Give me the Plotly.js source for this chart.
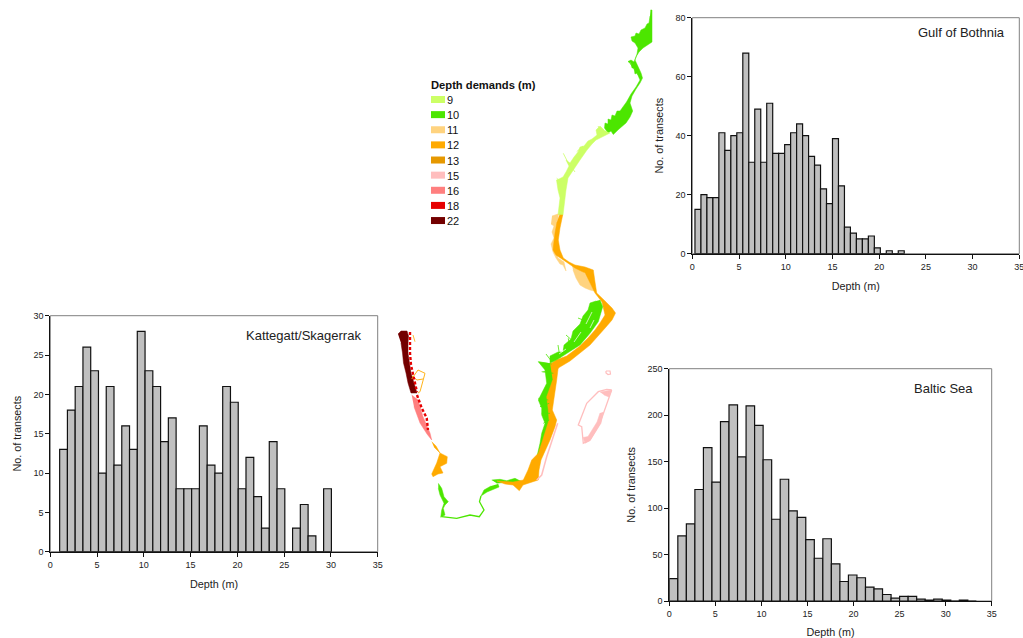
<!DOCTYPE html>
<html><head><meta charset="utf-8">
<script src="https://cdn.plot.ly/plotly-3.0.1.min.js"></script>
<style>html,body{margin:0;padding:0;background:#fff;overflow:hidden;width:1023px;height:638px}</style>
</head><body><div id="chart" style="width:1040px;height:638px"></div>
<script>
// Histogram values
const gulfValues=[15,20,19,19,41,35,40,41,68,31,49,31,51,34,34,37,41,44,40,33,30,22,17,39,23,9,7,5,5,6,2,0,1,0,1];
const gulfBinStart=0.285, gulfBinWidth=0.64;
const kattegatValues=[13,18,21,26,23,10,21,11,16,13,28,23,21,14,17,8,8,8,16,11,10,21,19,8,12,7,3,14,8,0,3,6,2,0,8];
const kattegatBinStart=1.0, kattegatBinWidth=0.83;
const balticValues=[24,70,83,120,165,128,193,211,155,210,189,152,88,131,97,90,66,46,67,40,21,28,25,15,13,7,3,5,5,2,1,2,1,0,1,0];
const balticBinStart=0, balticBinWidth=0.926;

// Legend
const legendLabels=['9','10','11','12','13','15','16','18','22'];
const legendColors=['#CCFF66','#4CE600','#FFD37F','#FFAA00','#E69800','#FFBEBE','#FF7F7F','#E60000','#730000'];
const colorOf=Object.fromEntries(legendLabels.map((l,i)=>[l,legendColors[i]]));

// Map regions: outlines, in map units
const north10=[[650.5,10],[652,10],[652,42],[647,45],[643,48],[639,52],[636.5,56],[635,60],[637,64],[639,68],[641,73],[642.5,78],[640,83],[636,89],[632,96],[630,103],[632.7,111],[630,117],[626,123],[619,129],[613.3,134.5],[611,131],[608,133],[604.5,128],[605,123],[608,124],[608,119],[611,120],[612,115],[615,116],[617,111],[620,111],[623,107],[626.5,102],[631,94],[636,87],[640,80],[637,73],[635,74],[634,68],[632,68],[631,63],[628,61.5],[631,60],[634,62],[637,54],[638,48],[635,43],[632,41],[631,37],[635,36],[636,33],[639,34],[641,30],[645,28],[647,24],[649,23],[650,16]];
const mid9=[[610,133],[604,136],[596,140],[592,144],[587,150],[580,160],[573,170],[568,178],[566,190],[565,200],[563,215],[558,215],[559,205],[560,198],[558,190],[556.5,180],[559,179],[563,177],[566,172],[569,166],[566,160],[570,163],[574,157],[576,155],[578,152],[580,147],[584,146],[588,141],[592,139],[597,135],[596,130],[600,126],[604,130]];
const coast12a=[[559.5,215],[562.7,215],[560,228],[558.3,240],[560,250],[563.3,258],[569,262],[575,265],[585,267],[593.3,270],[595,282],[596.7,293],[605,301],[612,308],[615.5,313],[612,320],[606,327],[597,337],[590,345],[580,353],[570,361],[558.3,368],[556,372],[553,380],[550,376],[549,365],[556,360],[566.7,356],[573,351],[580,346],[588,338],[595,330],[600,323],[605,315],[602,302],[595,293],[590,283],[585,273],[575,268],[563,260],[556,255],[553,250],[554,240],[555,233],[557,222]];
const coast11=[[552,216],[558,214],[559,222],[556,232],[555,246],[558,258],[564,262],[566,271],[563,265],[560,264],[556,258],[553,252],[551,244],[554,238],[552,232],[554,226],[551,224]];
const coast11b=[[572,265],[578,267],[585,274],[590,284],[594,291],[590,290],[585,288],[580,285],[576,278],[573,270]];
const coast10mid=[[600,300],[602.7,306.7],[598.3,321.7],[590,333.3],[580,345],[572,350],[565,355],[558,359],[550,363.3],[550,356],[558,352],[563,352],[564,345],[571,339],[573,331],[580,324],[583,316],[588,310],[590,303],[596,301]];
const coast10east=[[491.7,480],[500,479.3],[506.7,480.7],[515,478.3],[521.7,481.7],[518.3,483.3],[506.7,482],[496.7,483.3]];
const coast10wedge=[[498,484],[499,487],[487,492],[481,496],[484,490],[491,486]];
const coast10south=[[538.3,361.7],[545,370],[546.7,383.3],[541.7,393.3],[538.3,400],[541.7,408.3],[541.7,415],[545,423.3],[541.7,433.3],[540,443.3],[537.3,455],[540.7,455],[544,443.3],[547.3,433.3],[550,420],[549.3,403.3],[551.7,386.7],[555,370],[550,363.3]];
const coast12b=[[550,362.7],[558.3,366.7],[556.7,380],[554,396.7],[552.3,410],[556.7,420],[555,426.7],[550,440],[544.3,453.3],[541,460],[539,470],[538.3,480],[523,485],[519.3,490.7],[513,485],[505,484],[497,481],[513,482],[523.3,480],[528,470],[531.7,460],[538.3,453.3],[542.7,440],[546.7,426.7],[549,420],[548.3,410],[546.7,396.7],[552.7,380]];
const west12=[[431.7,441.7],[436,446],[440,453],[447.3,456.7],[446.7,463.3],[440,466.7],[443,473],[438,474],[433,476.7],[431.7,474],[436.7,463],[440,453],[434,447]];
const west16=[[411.7,395],[418,400],[423,416.7],[430,433],[431.7,440],[427,434],[420,423],[414,406.7]];
const west22=[[398,334],[401,331],[407,331],[408.5,336],[408,343],[408,353],[409.5,363],[411,373],[414,383],[417,393],[411,393],[408,383],[406,373],[403.5,363],[402.5,353],[401,343]];
const west10=[[438.3,483.3],[441.7,488.3],[444,496.7],[448.3,501.7],[445,505],[443.3,508.3],[445,515],[440.7,517.3],[441.7,510],[444,503.3],[440,495],[438.3,488.3]];
const isleTop=[[600,392],[611.7,390],[609,397],[604,395]];
const isleLow=[[603.3,412],[601,423.3],[590,440.7],[585,443.3],[583,437.5],[588,436.5],[597,422],[600,413]];
const balticIsle=[[611.7,390],[603.3,415],[600,423.3],[590,440],[583.3,443.3],[581.7,426.7],[578.3,425],[586.7,403.3],[598.3,391.7],[606.7,389.3],[611.7,390]];
const ringIsle=[[606,371],[610,371],[610.5,374],[608,374.5],[606,373],[606,371]];
const eastCoast15=[[557.7,423.3],[553.3,436.7],[546.7,456.7],[541.7,475],[536.7,480]];
const south10line=[[481,496],[479.5,501.7],[484,510],[479.3,516.7],[470,515],[456.7,518.3],[441.7,516.7]];
const north12lineA=[[413,335],[415,341.7]];
const west12line=[[411.7,379],[418,370],[425,373.3],[422.7,383],[420,391.7],[418,393]];
const west12line2=[[412,376],[417,380],[423,379]];
const west18a=[[410,332],[410,345],[410,353],[411,365],[414,378],[417,392]];
const west18b=[[417,395],[421.7,408],[426.7,418],[428,430]];
const feather10=[[568.3,338.3],[570,350],null,[565,345],[563.3,353.3],null,[583.3,318],[580,336.7],null,[593.3,303.3],[591.7,313.3],null,[538.3,361.7],[551.7,364],null,[543.3,371.7],[550,370],null,[541.7,371.7],[553.3,373.3],null,[538.3,398.3],[548.3,400],null,[540,406.7],[549.3,403.3],null,[541.7,413.3],[550,413.3],null,[543.3,423.3],[549.3,420],null,[631.7,37.3],[641.7,41.7],null,[628.3,61.7],[635,66.7],null,[630,63.3],[638.3,75],null,[574,342],[566,335],null,[588,322],[578,318],null,[546,354],[552,362],null,[558,345],[560,358]];
const feather9=[[563.3,153.3],[571.7,170],null,[576.7,151.7],[583,146],null,[556.7,178.3],[565,185],null,[568,162],[575,172],null,[598,126],[603,134]];
const latticeHoles=[[592,312],[586,324],null,[581,332],[574,342],null,[594,320],[590,328],null,[566,349],[559,354]];

const mapFills=[['15',isleTop],['15',isleLow],['10',north10],['9',mid9],['11',coast11],['11',coast11b],['12',coast12a],['10',coast10mid],['10',coast10south],['10',coast10east],['12',coast12b],['10',coast10wedge],['10',west10],['12',west12],['16',west16],['22',west22]];
const mapLines=[['15',balticIsle,1.3],['15',ringIsle,1.2],['15',eastCoast15,1.5],['10',south10line,1.3],['12',north12lineA,0.8],['12',west12line,0.9],['12',west12line2,0.9],['10',feather10,0.8],['9',feather9,0.8]];
const mapDots=[['18',west18a],['18',west18b]];
const xOf=c=>c.map(p=>p?p[0]:null), yOf=c=>c.map(p=>p?p[1]:null);

const barColor='#C0C0C0', barEdge='#111111';
const hist=(vals,start,w,xa,ya)=>({type:'bar',x:vals.map((_,i)=>start+w*(i+0.5)),y:vals,width:w,xaxis:xa,yaxis:ya,
  marker:{color:barColor,line:{color:barEdge,width:1.2}},showlegend:false,hoverinfo:'x+y'});

const data=[
  hist(gulfValues,gulfBinStart,gulfBinWidth,'x','y'),
  hist(kattegatValues,kattegatBinStart,kattegatBinWidth,'x2','y2'),
  hist(balticValues,balticBinStart,balticBinWidth,'x3','y3')
];
const common={type:'scatter',mode:'lines',xaxis:'x4',yaxis:'y4',showlegend:false,hoverinfo:'skip'};
mapFills.forEach(([d,c])=>data.push({...common,x:xOf(c),y:yOf(c),fill:'toself',fillcolor:colorOf[d],line:{color:colorOf[d],width:0.5}}));
mapLines.forEach(([d,c,w])=>data.push({...common,x:xOf(c),y:yOf(c),line:{color:colorOf[d],width:w}}));
data.push({...common,x:xOf(latticeHoles),y:yOf(latticeHoles),line:{color:'#ffffff',width:0.7}});
mapDots.forEach(([d,c])=>data.push({...common,x:xOf(c),y:yOf(c),line:{color:colorOf[d],width:2.4,dash:'3px,2px'}}));

const W=1040,H=638, textCol='#222222', family='"Liberation Sans", Arial, sans-serif';
const dx=(a,b)=>[a/W,b/W], dy=(t,b)=>[1-b/H,1-t/H];
const xAxis=(dom,anchor)=>({domain:dom,anchor,range:[0,35],dtick:5,tick0:0,showgrid:false,zeroline:false,showline:true,linecolor:'#111',linewidth:1,ticks:'outside',ticklen:4,tickcolor:'#111',tickfont:{size:9,color:textCol,family},title:{text:'Depth (m)',font:{size:10.8,color:textCol,family},standoff:11}});
const yAxis=(dom,anchor,max,step)=>({domain:dom,anchor,range:[0,max],dtick:step,tick0:0,showgrid:false,zeroline:false,showline:true,linecolor:'#111',linewidth:1,ticks:'outside',ticklen:4,tickcolor:'#111',tickfont:{size:9,color:textCol,family},title:{text:'No. of transects',font:{size:10.8,color:textCol,family},standoff:9}});
const frame=(x,y)=>({type:'rect',xref:x+' domain',yref:y+' domain',x0:0,x1:1,y0:0,y1:1,line:{color:'#808080',width:1},layer:'below'});
const label=(text,x,y,xa,ya)=>({text,x,y,xref:xa,yref:ya,showarrow:false,font:{size:13,color:textCol,family},xanchor:'center',yanchor:'middle'});

const legendX=431, legendSwatchW=14, legendSwatchH=7, legendTop=99.5, legendStep=15.13;
const shapes=[frame('x','y'),frame('x2','y2'),frame('x3','y3')];
const annotations=[
  label('Gulf of Bothnia',28.8,75.1,'x','y'),
  label('Kattegatt/Skagerrak',27.1,27.5,'x2','y2'),
  label('Baltic Sea',29.8,229,'x3','y3'),
  {text:'<b>Depth demands (m)</b>',x:legendX-2,y:85,xref:'x4',yref:'y4',showarrow:false,xanchor:'left',yanchor:'middle',font:{size:11.2,color:'#111',family}}
];
legendLabels.forEach((l,i)=>{
  const cy=legendTop+i*legendStep;
  shapes.push({type:'rect',xref:'x4',yref:'y4',x0:legendX,x1:legendX+legendSwatchW,y0:cy-legendSwatchH/2,y1:cy+legendSwatchH/2,fillcolor:legendColors[i],line:{width:0}});
  annotations.push({text:l,x:legendX+legendSwatchW-0.5,y:cy+0.5,xref:'x4',yref:'y4',showarrow:false,xanchor:'left',yanchor:'middle',font:{size:11,color:'#111',family}});
});

const layout={width:W,height:H,margin:{l:0,r:0,t:0,b:0},paper_bgcolor:'#fff',plot_bgcolor:'rgba(0,0,0,0)',barmode:'overlay',font:{family},
  xaxis:xAxis(dx(692.3,1019.3),'y'),yaxis:yAxis(dy(17.7,253.7),'x',80,20),
  xaxis2:xAxis(dx(50.3,377.7),'y2'),yaxis2:yAxis(dy(315.7,551.7),'x2',30,5),
  xaxis3:xAxis(dx(669.3,991.7),'y3'),yaxis3:yAxis(dy(368.7,601),'x3',250,50),
  xaxis4:{domain:[0,1],anchor:'y4',range:[0,W],visible:false},
  yaxis4:{domain:[0,1],anchor:'x4',range:[H,0],visible:false},
  shapes,annotations};
Plotly.newPlot('chart',data,layout,{displayModeBar:false,staticPlot:true});
</script></body></html>
